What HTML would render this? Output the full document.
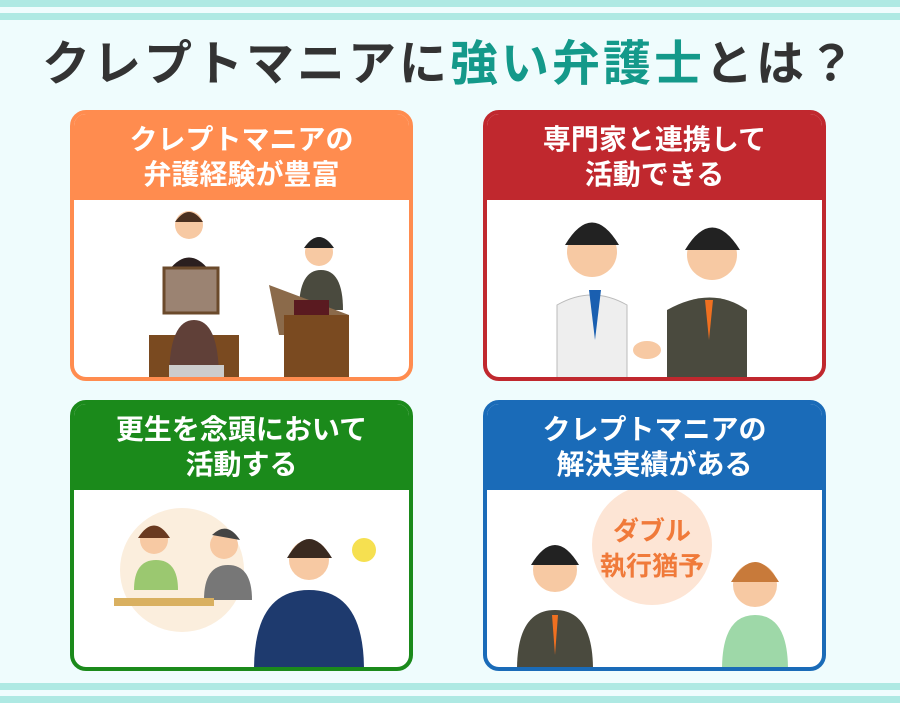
<!DOCTYPE html>
<html><head><meta charset="utf-8"><style>
*{margin:0;padding:0;box-sizing:border-box}
body{width:900px;height:703px;background:#effcfd;position:relative;overflow:hidden;font-family:"Liberation Sans","Noto Sans CJK JP",sans-serif}
.s{position:absolute;left:0;width:900px;background:#aee9e3}
h1{position:absolute;top:35px;left:0;width:900px;text-align:center;font-size:48px;font-weight:bold;color:#333;letter-spacing:3px;line-height:60px}
h1 span{color:#14998a}
.c{position:absolute;width:343px;height:271px;border:4px solid;border-radius:16px;background:#fff;overflow:hidden}
.h{height:86px;color:#fff;font-size:28px;font-weight:bold;text-align:center;line-height:35px;padding-top:8px}
.c svg{position:absolute;left:0;top:86px}
</style></head><body>
<div class="s" style="top:0;height:7px"></div>
<div class="s" style="top:13px;height:7px"></div>
<div class="s" style="top:683px;height:7px"></div>
<div class="s" style="top:696px;height:7px"></div>
<h1>クレプトマニアに<span>強い弁護士</span>とは？</h1>

<div class="c" style="left:70px;top:110px;border-color:#ff8c4f"><div class="h" style="background:#ff8c4f">クレプトマニアの<br>弁護経験が豊富</div>
<svg width="335" height="180"><circle cx="115" cy="25" r="14" fill="#f7c9a3"/><path d="M101 22q14-20 28 0z" fill="#4a3020"/><path d="M95 70q20-25 40 0z" fill="#2b1f1f"/><rect x="90" y="68" width="54" height="45" fill="#9b8372" stroke="#6b4a2b" stroke-width="3"/><rect x="75" y="135" width="90" height="45" fill="#7a4a20"/><path d="M95 180q0-60 25-60t25 60z" fill="#604038"/><rect x="95" y="165" width="55" height="15" fill="#ccc"/><circle cx="245" cy="52" r="14" fill="#f7c9a3"/><path d="M230 48q15-22 30 0z" fill="#222"/><path d="M225 110q0-40 22-40t22 40z" fill="#4a4a3e"/><path d="M195 85l80 30v20h-70z" fill="#8b6a4a"/><rect x="210" y="115" width="65" height="65" fill="#7a4a20"/><rect x="220" y="100" width="35" height="15" fill="#5a1a20"/></svg></div>

<div class="c" style="left:483px;top:110px;border-color:#c0282e"><div class="h" style="background:#c0282e">専門家と連携して<br>活動できる</div>
<svg width="335" height="180"><circle cx="105" cy="52" r="25" fill="#f7c9a3"/><path d="M78 45q27-45 54 0z" fill="#222"/><path d="M70 180v-75q35-20 70 0v75z" fill="#eee" stroke="#bbb"/><path d="M102 90l6 50 6-50z" fill="#1a5fb0"/><circle cx="225" cy="55" r="25" fill="#f7c9a3"/><path d="M198 50q27-45 55 0z" fill="#222"/><path d="M180 180v-70q45-25 80 0v70z" fill="#4a4a3e"/><path d="M218 100l4 40 4-40z" fill="#f07020"/><ellipse cx="160" cy="150" rx="14" ry="9" fill="#f7c9a3"/></svg></div>

<div class="c" style="left:70px;top:400px;border-color:#1b8a1b"><div class="h" style="background:#1b8a1b">更生を念頭において<br>活動する</div>
<svg width="335" height="180"><circle cx="108" cy="80" r="62" fill="#fbeedd"/><circle cx="80" cy="50" r="14" fill="#f7c9a3"/><path d="M64 48q16-25 32 0z" fill="#6a3a20"/><path d="M60 100q0-30 22-30t22 30z" fill="#9bc870"/><circle cx="150" cy="55" r="14" fill="#f7c9a3"/><path d="M138 45q15-15 28 5z" fill="#444"/><path d="M130 110q0-35 24-35t24 35z" fill="#777"/><rect x="40" y="108" width="100" height="8" fill="#d9b060"/><circle cx="235" cy="70" r="20" fill="#f7c9a3"/><path d="M213 68q22-38 45 0z" fill="#3a2a20"/><path d="M180 180q0-80 55-80t55 80z" fill="#1e3a6e"/><circle cx="290" cy="60" r="12" fill="#f6e050"/></svg></div>

<div class="c" style="left:483px;top:400px;border-color:#1a6bb8"><div class="h" style="background:#1a6bb8">クレプトマニアの<br>解決実績がある</div>
<svg width="335" height="180"><circle cx="165" cy="55" r="60" fill="#fde5d5"/><text x="165" y="50" text-anchor="middle" font-size="26" font-weight="bold" fill="#f07a3a" font-family="Liberation Sans,Noto Sans CJK JP,sans-serif">ダブル</text><text x="165" y="85" text-anchor="middle" font-size="26" font-weight="bold" fill="#f07a3a" font-family="Liberation Sans,Noto Sans CJK JP,sans-serif">執行猶予</text><circle cx="68" cy="80" r="22" fill="#f7c9a3"/><path d="M44 75q24-40 48 0z" fill="#222"/><path d="M30 180q0-60 38-60t38 60z" fill="#4a4a3e"/><path d="M65 125l3 40 3-40z" fill="#f07020"/><circle cx="268" cy="95" r="22" fill="#f7c9a3"/><path d="M244 92q24-40 48 0z" fill="#c87a3a"/><path d="M235 180q0-55 33-55t33 55z" fill="#9ed8a8"/></svg></div>
</body></html>
